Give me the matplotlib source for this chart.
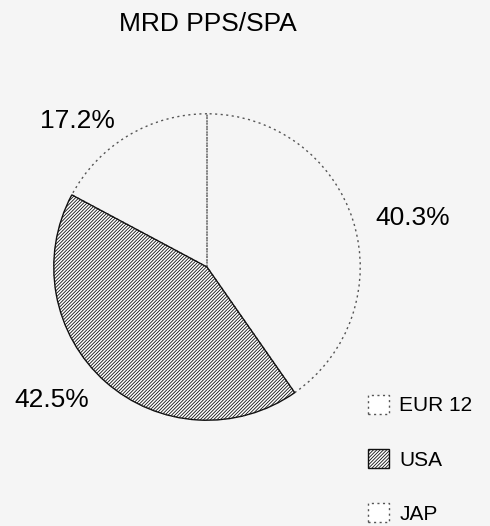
import matplotlib
matplotlib.use('Agg')
import matplotlib.pyplot as plt
from matplotlib.patches import Patch

# Data
title = 'MRD PPS/SPA'
regions = ['EUR 12', 'USA', 'JAP']
shares = [40.3, 42.5, 17.2]
share_labels = ['40.3%', '42.5%', '17.2%']

plt.rcParams['font.family'] = ['Liberation Sans', 'DejaVu Sans']
plt.rcParams['hatch.linewidth'] = 0.6
plt.rcParams['hatch.color'] = '#222222'

W, H = 490, 526
bg = '#f5f5f5'
fig = plt.figure(figsize=(W / 100, H / 100), dpi=100, facecolor=bg)

# pie axes: center (207, 267) px, radius 154 px
cx, cy, r = 207, 267, 154
ax = fig.add_axes([(cx - r) / W, (H - cy - r) / H, 2 * r / W, 2 * r / H])

wedges, _ = ax.pie(shares, startangle=90, counterclock=False, radius=0.995,
                   wedgeprops=dict(linewidth=1.0))
ax.set_xlim(-1, 1)
ax.set_ylim(-1, 1)
ax.set_aspect('equal')
ax.axis('off')

dotted = (0, (1.5, 2.5))
styles = [
    dict(facecolor='none', edgecolor='#555555', linestyle=dotted, hatch=None, z=1),
    dict(facecolor='white', edgecolor='#111111', linestyle='-', hatch='//////////', z=3),
    dict(facecolor='none', edgecolor='#555555', linestyle=dotted, hatch=None, z=2),
]
for w, s in zip(wedges, styles):
    w.set_facecolor(s['facecolor'])
    w.set_edgecolor(s['edgecolor'])
    w.set_linestyle(s['linestyle'])
    w.set_zorder(s['z'])
    if s['hatch']:
        w.set_hatch(s['hatch'])

# title and percentage labels (pixel positions)
fig.text(208 / W, 1 - 24 / H, title, ha='center', va='center', fontsize=19)
label_pos = [(413, 218), (52, 400), (77, 121)]
for (px, py), lab in zip(label_pos, share_labels):
    fig.text(px / W, 1 - py / H, lab, ha='center', va='center', fontsize=19)

# legend
handles = []
for s, name in zip(styles, regions):
    handles.append(Patch(facecolor='white', edgecolor=s['edgecolor'],
                         linestyle=s['linestyle'], hatch=s['hatch'],
                         linewidth=1.0, label=name))
fig.legend(handles=handles, loc='upper left', bbox_to_anchor=(368 / W, 1 - 395 / H),
           frameon=False, fontsize=15, handlelength=1.0, handleheight=1.0,
           handletextpad=0.5, labelspacing=1.62, borderpad=0.0, borderaxespad=0.0)

fig.savefig('out.png', dpi=100, facecolor=bg)
